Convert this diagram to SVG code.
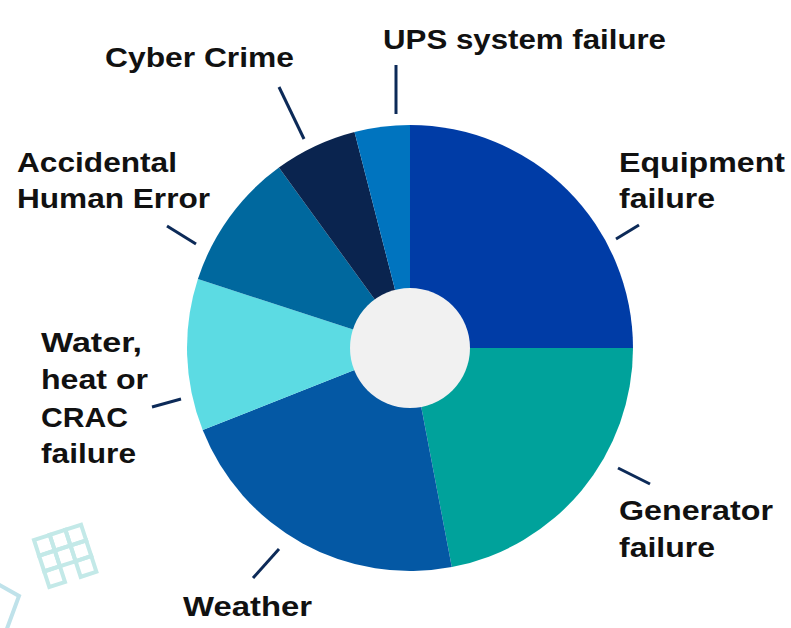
<svg xmlns="http://www.w3.org/2000/svg" width="791" height="628" viewBox="0 0 791 628">
<style>
.lbl{font-family:"Liberation Sans",Arial,sans-serif;font-weight:700;font-size:28px;fill:#111111}
.lead{stroke:#0c2a58;stroke-width:3;fill:none}
.deco{fill:none;stroke:#c3e9e8;stroke-width:4}
</style>
<rect width="791" height="628" fill="#ffffff"/>
<g id="decorations">
<g transform="translate(34,540) rotate(-18)" class="deco">
<rect x="0" y="0" width="16.5" height="16.5"/>
<rect x="16.5" y="0" width="16.5" height="16.5"/>
<rect x="33" y="0" width="16.5" height="16.5"/>
<rect x="0" y="16.5" width="16.5" height="16.5"/>
<rect x="16.5" y="16.5" width="16.5" height="16.5"/>
<rect x="33" y="16.5" width="16.5" height="16.5"/>
<rect x="0" y="33" width="16.5" height="16.5"/>
<rect x="33" y="33" width="16.5" height="16.5"/>
</g>
<path d="M -20 574 L 19 596 L 5 634" fill="none" stroke="#bfe2ea" stroke-width="4"/>
</g>
<g id="pie">
<g id="slice-equipment"><path d="M410 348 L410 125 A223 223 0 0 1 633 348 Z" fill="#003ca6"/></g>
<g id="slice-generator"><path d="M410 348 L633 348 A223 223 0 0 1 451.8 567.1 Z" fill="#00a29b"/></g>
<g id="slice-weather"><path d="M410 348 L451.8 567.1 A223 223 0 0 1 202.7 430.1 Z" fill="#0458a4"/></g>
<g id="slice-water"><path d="M410 348 L202.7 430.1 A223 223 0 0 1 197.9 279.1 Z" fill="#5cdbe3"/></g>
<g id="slice-human"><path d="M410 348 L197.9 279.1 A223 223 0 0 1 278.9 167.6 Z" fill="#00689e"/></g>
<g id="slice-cyber"><path d="M410 348 L278.9 167.6 A223 223 0 0 1 354.5 132 Z" fill="#0a244f"/></g>
<g id="slice-ups"><path d="M410 348 L354.5 132 A223 223 0 0 1 410 125 Z" fill="#0074bf"/></g>
<circle cx="410" cy="348" r="60" fill="#f1f1f1"/>
</g>
<g id="connectors">
<line class="lead" x1="396" y1="65" x2="396" y2="114"/>
<line class="lead" x1="279" y1="87" x2="304" y2="139"/>
<line class="lead" x1="616" y1="239" x2="639" y2="225"/>
<line class="lead" x1="167" y1="226" x2="196" y2="244"/>
<line class="lead" x1="152" y1="407" x2="181" y2="399"/>
<line class="lead" x1="618" y1="468" x2="650" y2="484"/>
<line class="lead" x1="253" y1="578" x2="279" y2="549"/>
</g>
<g id="label-ups"><text class="lbl" x="383" y="49" textLength="283" lengthAdjust="spacingAndGlyphs">UPS system failure</text></g>
<g id="label-cyber"><text class="lbl" x="105" y="67" textLength="189" lengthAdjust="spacingAndGlyphs">Cyber Crime</text></g>
<g id="label-equipment">
<text class="lbl" x="619" y="172" textLength="166" lengthAdjust="spacingAndGlyphs">Equipment</text>
<text class="lbl" x="619" y="208" textLength="96" lengthAdjust="spacingAndGlyphs">failure</text>
</g>
<g id="label-human">
<text class="lbl" x="17" y="172" textLength="160" lengthAdjust="spacingAndGlyphs">Accidental</text>
<text class="lbl" x="17" y="208" textLength="193" lengthAdjust="spacingAndGlyphs">Human Error</text>
</g>
<g id="label-water">
<text class="lbl" x="41" y="352" textLength="101" lengthAdjust="spacingAndGlyphs">Water,</text>
<text class="lbl" x="41" y="389" textLength="107" lengthAdjust="spacingAndGlyphs">heat or</text>
<text class="lbl" x="41" y="427" textLength="87" lengthAdjust="spacingAndGlyphs">CRAC</text>
<text class="lbl" x="41" y="463" textLength="95" lengthAdjust="spacingAndGlyphs">failure</text>
</g>
<g id="label-generator">
<text class="lbl" x="619" y="520" textLength="154" lengthAdjust="spacingAndGlyphs">Generator</text>
<text class="lbl" x="619" y="557" textLength="96" lengthAdjust="spacingAndGlyphs">failure</text>
</g>
<g id="label-weather"><text class="lbl" x="183" y="616" textLength="129" lengthAdjust="spacingAndGlyphs">Weather</text></g>
</svg>
